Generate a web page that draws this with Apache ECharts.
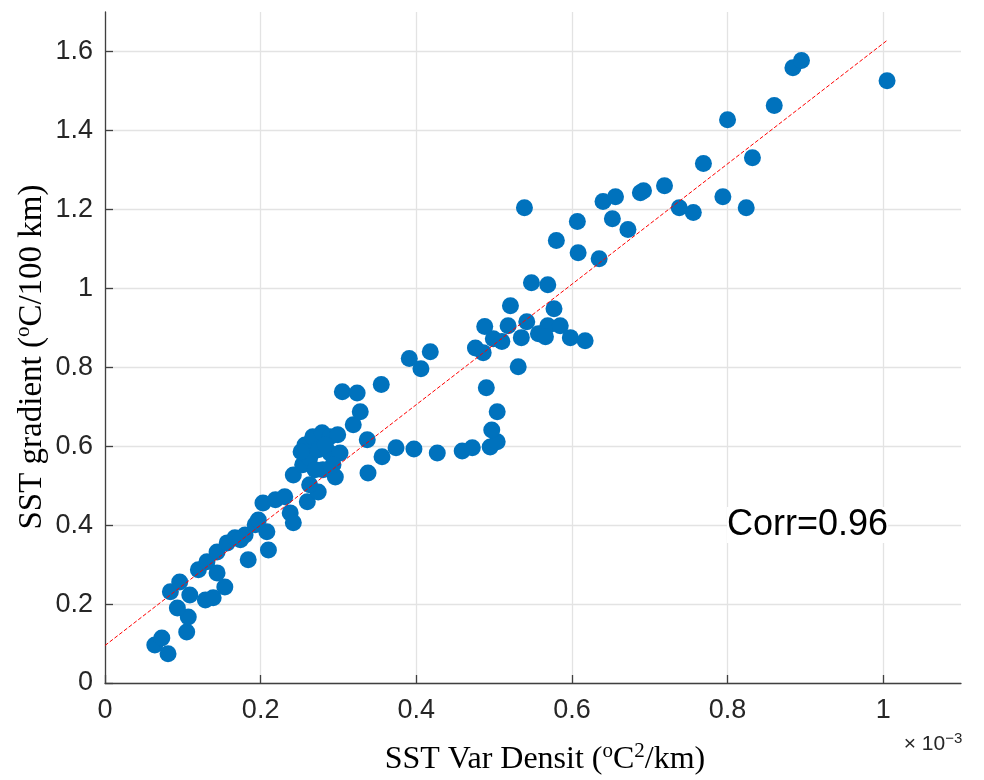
<!DOCTYPE html>
<html>
<head>
<meta charset="utf-8">
<title>SST gradient vs SST variance density</title>
<script src="https://cdn.jsdelivr.net/npm/echarts@6/dist/echarts.min.js"></script>
<style>
  html, body { margin: 0; padding: 0; background: #fff; }
  #chart { width: 984px; height: 780px; }
</style>
</head>
<body>
<div id="chart"></div>
<script>
// SST variance density (x, in units of 1e-3 °C²/km)
var varDensity = [
  0.064, 0.073, 0.081, 0.105, 0.107, 0.093, 0.084, 0.096, 0.109, 0.129,
  0.139, 0.120, 0.144, 0.154, 0.131, 0.144, 0.157, 0.167, 0.180, 0.184,
  0.193, 0.208, 0.210, 0.197, 0.174, 0.203, 0.219, 0.231, 0.238, 0.242,
  0.260, 0.274, 0.242, 0.254, 0.263, 0.257, 0.267, 0.279, 0.289, 0.299,
  0.274, 0.289, 0.302, 0.296, 0.293, 0.280, 0.252, 0.270, 0.283, 0.263,
  0.319, 0.328, 0.338, 0.305, 0.324, 0.355, 0.337, 0.356, 0.374, 0.397,
  0.427, 0.459, 0.472, 0.495, 0.504, 0.497, 0.504, 0.490, 0.531, 0.391,
  0.418, 0.406, 0.476, 0.486, 0.499, 0.510, 0.535, 0.488, 0.518, 0.542,
  0.521, 0.577, 0.569, 0.585, 0.557, 0.566, 0.598, 0.617, 0.548, 0.569,
  0.539, 0.580, 0.607, 0.608, 0.635, 0.640, 0.656, 0.652, 0.672, 0.688,
  0.692, 0.719, 0.738, 0.756, 0.794, 0.824, 0.769, 0.832, 0.800, 0.860,
  0.884, 0.895, 1.005
];

// SST gradient (y, °C/100 km)
var sstGradient = [
  0.096, 0.114, 0.074, 0.129, 0.167, 0.190, 0.231, 0.256, 0.223, 0.210,
  0.216, 0.287, 0.279, 0.243, 0.307, 0.332, 0.355, 0.368, 0.375, 0.312,
  0.401, 0.383, 0.337, 0.413, 0.363, 0.456, 0.464, 0.472, 0.431, 0.406,
  0.459, 0.484, 0.527, 0.553, 0.570, 0.603, 0.624, 0.634, 0.624, 0.629,
  0.591, 0.583, 0.583, 0.522, 0.553, 0.540, 0.586, 0.540, 0.603, 0.502,
  0.654, 0.687, 0.532, 0.738, 0.735, 0.756, 0.616, 0.573, 0.596, 0.593,
  0.583, 0.588, 0.596, 0.598, 0.611, 0.641, 0.687, 0.748, 0.801, 0.822,
  0.839, 0.796, 0.849, 0.837, 0.872, 0.865, 0.875, 0.903, 0.905, 0.915,
  0.956, 0.948, 0.905, 0.905, 0.885, 0.877, 0.875, 0.867, 1.014, 1.009,
  1.204, 1.121, 1.169, 1.090, 1.075, 1.220, 1.232, 1.176, 1.149, 1.242,
  1.247, 1.260, 1.204, 1.192, 1.232, 1.204, 1.316, 1.331, 1.427, 1.463,
  1.559, 1.577, 1.526
];

// Least-squares fit line end points
var fitX = [0, 1.005];
var fitY = [0.095, 1.628];

var corrText = 'Corr=0.96';

var points = varDensity.map(function (x, i) { return [x, sstGradient[i]]; });
var fitLine = fitX.map(function (x, i) { return [x, fitY[i]]; });

var chart = echarts.init(document.getElementById('chart'), null, { renderer: 'canvas' });

var axisColor = '#404040';
var gridColor = '#e3e3e3';
var tickFont = '"Liberation Sans", Arial, sans-serif';
var serifFont = '"Liberation Serif", "Times New Roman", serif';

function titleRich(size) {
  return {
    a: { fontFamily: serifFont, fontSize: size, fill: '#000', lineHeight: size + 6 },
    s: { fontFamily: serifFont, fontSize: Math.round(size * 0.65), fill: '#000', verticalAlign: 'top', lineHeight: Math.round(size * 0.62) }
  };
}

chart.setOption({
  animation: false,
  backgroundColor: '#ffffff',
  grid: { left: 105, right: 23, top: 12, bottom: 97 },
  xAxis: {
    type: 'value',
    min: 0,
    max: 1.1,
    interval: 0.2,
    axisLine: { show: true, onZero: false, lineStyle: { color: axisColor, width: 1.3 } },
    axisTick: { show: true, inside: true, length: 8, lineStyle: { color: axisColor, width: 1.3 } },
    axisLabel: {
      show: true, margin: 14, showMaxLabel: false,
      color: '#262626', fontSize: 27, fontFamily: tickFont
    },
    splitLine: { show: true, showMaxLine: false, lineStyle: { color: gridColor, width: 1.3 } }
  },
  yAxis: {
    type: 'value',
    min: 0,
    max: 1.7,
    interval: 0.2,
    axisLine: { show: true, onZero: false, lineStyle: { color: axisColor, width: 1.3 } },
    axisTick: { show: true, inside: true, length: 8, lineStyle: { color: axisColor, width: 1.3 } },
    axisLabel: {
      show: true, margin: 12, showMaxLabel: false,
      color: '#262626', fontSize: 27, fontFamily: tickFont
    },
    splitLine: { show: true, showMaxLine: false, lineStyle: { color: gridColor, width: 1.3 } }
  },
  series: [
    {
      type: 'scatter',
      data: points,
      symbol: 'circle',
      symbolSize: 17,
      itemStyle: { color: '#0072BD', opacity: 1 },
      z: 2
    },
    {
      type: 'line',
      data: fitLine,
      symbol: 'none',
      lineStyle: { color: '#ff0000', width: 1, type: [4, 2] },
      z: 3
    }
  ],
  graphic: [
    {
      type: 'text',
      x: 727,
      y: 525,
      z: 10,
      style: {
        text: corrText,
        fontFamily: tickFont,
        fontSize: 36,
        fill: '#000000',
        align: 'left',
        verticalAlign: 'middle',
        backgroundColor: '#ffffff',
        padding: [0, 0, 0, 0]
      }
    },
    {
      type: 'text',
      x: 545,
      y: 760,
      style: {
        text: '{a|SST Var Densit (}{s|o}{a|C}{s|2}{a|/km)}',
        align: 'center',
        verticalAlign: 'middle',
        rich: titleRich(32)
      }
    },
    {
      type: 'text',
      x: 32,
      y: 357,
      rotation: Math.PI / 2,
      style: {
        text: '{a|SST gradient (}{s|o}{a|C/100 km)}',
        align: 'center',
        verticalAlign: 'middle',
        rich: titleRich(33)
      }
    },
    {
      type: 'text',
      x: 933,
      y: 744,
      style: {
        text: '{a|\u00d7 10}{s|\u22123}',
        align: 'center',
        verticalAlign: 'middle',
        rich: {
          a: { fontFamily: tickFont, fontSize: 21, fill: '#262626', lineHeight: 26 },
          s: { fontFamily: tickFont, fontSize: 15, fill: '#262626', verticalAlign: 'top', lineHeight: 14 }
        }
      }
    }
  ]
});
</script>
</body>
</html>
